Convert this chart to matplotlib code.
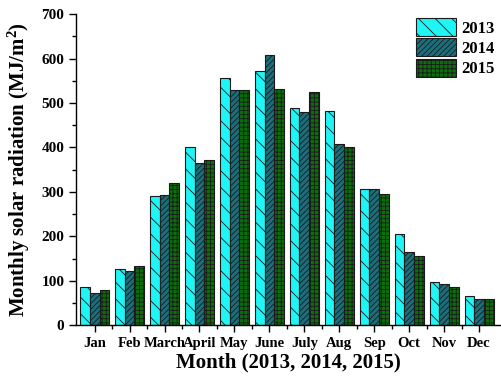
import numpy as np
import matplotlib.pyplot as plt
from matplotlib.ticker import MultipleLocator, FixedLocator

# Monthly solar radiation (MJ/m^2) per year
months = ["Jan", "Feb", "March", "April", "May", "June",
          "July", "Aug", "Sep", "Oct", "Nov", "Dec"]
rad_2013 = [85, 127, 290, 400, 556, 572, 488, 483, 306, 205, 97, 65]
rad_2014 = [73, 122, 292, 366, 530, 608, 479, 407, 307, 165, 93, 58]
rad_2015 = [79, 133, 320, 372, 530, 531, 524, 402, 295, 155, 87, 60]
years = ["2013", "2014", "2015"]

plt.rcParams['font.family'] = ['Liberation Serif', 'DejaVu Serif']
plt.rcParams['font.weight'] = 'bold'
plt.rcParams['mathtext.fontset'] = 'custom'
plt.rcParams['mathtext.rm'] = 'Liberation Serif:bold'
plt.rcParams['mathtext.bf'] = 'Liberation Serif:bold'
plt.rcParams['mathtext.it'] = 'Liberation Serif:bold'
plt.rcParams['hatch.linewidth'] = 0.6

fig = plt.figure(figsize=(5.01, 3.80), dpi=100)
ax = fig.add_axes([0.152, 0.144, 0.846, 0.819])

x = np.arange(len(months))
w = 0.277
styles = [
    dict(color='#1ff5f5', hatch='\\\\'),
    dict(color='#1b6f7c', hatch='//////'),
    dict(color='#0a6e0a', hatch='++++'),
]
for i, (vals, yr) in enumerate(zip([rad_2013, rad_2014, rad_2015], years)):
    ax.bar(x + (i - 1) * w, vals, width=w, color=styles[i]['color'],
           hatch=styles[i]['hatch'], edgecolor='#1a1a1a', linewidth=0.8,
           label=yr)

ax.set_xlim(-0.53, 11.6)
ax.set_ylim(0, 700)
ax.spines['top'].set_visible(False)
ax.spines['right'].set_visible(False)
ax.spines['left'].set_linewidth(1.0)
ax.spines['bottom'].set_linewidth(1.0)

ax.set_xticks(x)
ax.set_xticklabels(months, fontsize=10.5, fontweight='bold')
ax.xaxis.set_minor_locator(FixedLocator(x[:-1] + 0.5))
ax.yaxis.set_major_locator(MultipleLocator(100))
ax.yaxis.set_minor_locator(MultipleLocator(50))
ax.tick_params(axis='both', which='major', direction='out', length=5, width=1.0)
ax.tick_params(axis='both', which='minor', direction='out', length=3, width=1.0)
ax.tick_params(axis='y', labelsize=11)
for lbl in ax.get_yticklabels():
    lbl.set_fontweight('bold')

ax.set_xlabel("Month (2013, 2014, 2015)", fontsize=15, fontweight='bold', labelpad=2)
ax.set_ylabel("Monthly solar radiation (MJ/m$^{2}$)", fontsize=15,
              fontweight='bold', labelpad=7)

ax.legend(loc='upper right', bbox_to_anchor=(1.01, 1.02), frameon=False,
          handlelength=2.4, handleheight=1.3, handletextpad=0.3,
          labelspacing=0.1, borderaxespad=0.2, prop={'weight': 'bold', 'size': 12})

fig.savefig("out.png", dpi=100)
